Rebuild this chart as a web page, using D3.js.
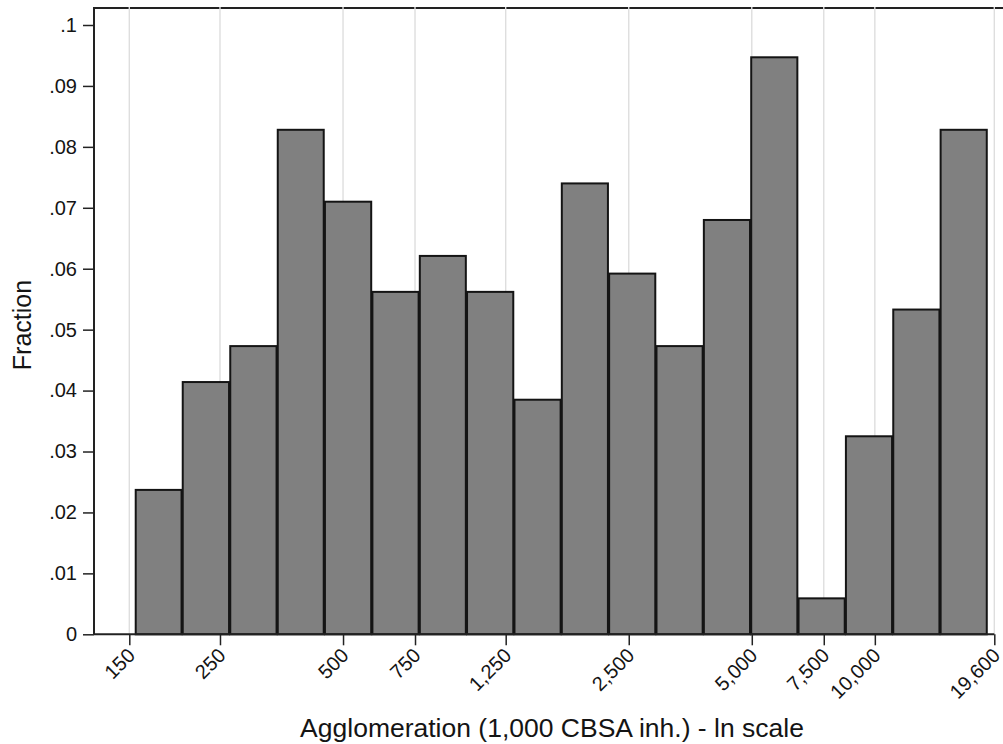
<!DOCTYPE html>
<html>
<head>
<meta charset="utf-8">
<script src="https://cdn.jsdelivr.net/npm/d3@7/dist/d3.min.js"></script>
<style>
  html, body { margin: 0; padding: 0; background: #fff; }
  svg { display: block; font-family: "Liberation Sans", Arial, Helvetica, sans-serif; }
</style>
</head>
<body>
<svg id="chart" width="1003" height="744"></svg>
<script>
// Histogram of agglomeration size (1,000 CBSA inhabitants), 18 log-width bins
const binEdges = [155, 202, 264, 345, 450, 588, 768, 1002, 1309, 1709,
                  2231, 2913, 3804, 4967, 6485, 8468, 11056, 14437, 18850];
const fractions = [0.0237, 0.0414, 0.0473, 0.0828, 0.0710, 0.0562, 0.0621, 0.0562, 0.0385,
                   0.0740, 0.0592, 0.0473, 0.0680, 0.0947, 0.0059, 0.0325, 0.0533, 0.0828];
const xTicks = [150, 250, 500, 750, 1250, 2500, 5000, 7500, 10000, 19600];
const yTicks = [0, 0.01, 0.02, 0.03, 0.04, 0.05, 0.06, 0.07, 0.08, 0.09, 0.1];
const xTitle = "Agglomeration (1,000 CBSA inh.) - ln scale";
const yTitle = "Fraction";

const bins = fractions.map((f, i) => ({ x0: binEdges[i], x1: binEdges[i + 1], value: f }));

const svg = d3.select("#chart");
const plot = { left: 94, right: 1003, top: 8, bottom: 634.3 };

const x = d3.scaleLog().domain([150, 19600]).range([129.3, 994.3]);
const y = d3.scaleLinear().domain([0, 0.1]).range([634.3, 25]);

const ink = "#141414";

// Plot region top border
svg.append("line")
  .attr("x1", plot.left).attr("x2", plot.right)
  .attr("y1", plot.top).attr("y2", plot.top)
  .attr("stroke", "#222").attr("stroke-width", 2);

// Vertical grid lines at the x tick values
svg.append("g").selectAll("line").data(xTicks).join("line")
  .attr("x1", d => x(d)).attr("x2", d => x(d))
  .attr("y1", plot.top - 1).attr("y2", plot.bottom)
  .attr("stroke", "#dedede").attr("stroke-width", 1.4);

// Bars
svg.append("g").selectAll("rect").data(bins).join("rect")
  .attr("x", d => x(d.x0) + 0.6)
  .attr("width", d => x(d.x1) - x(d.x0) - 1.2)
  .attr("y", d => y(d.value))
  .attr("height", d => y(0) - y(d.value))
  .attr("fill", "#808080")
  .attr("stroke", ink).attr("stroke-width", 2);

// Y axis
const yAxis = svg.append("g")
  .attr("transform", `translate(${plot.left},0)`)
  .call(d3.axisLeft(y).tickValues(yTicks).tickSize(11).tickPadding(6)
    .tickFormat(d => d === 0 ? "0" : d3.format(".2~f")(d).replace(/^0/, "")));
yAxis.select(".domain").attr("d", `M0,${plot.top - 1}V${plot.bottom}`)
  .attr("stroke", "#222").attr("stroke-width", 2);
yAxis.selectAll(".tick line").attr("stroke", "#222").attr("stroke-width", 1.5);
yAxis.selectAll(".tick text").attr("font-size", 20).attr("fill", ink)
  .attr("font-family", "'Liberation Sans', Arial, sans-serif");

// X axis
const xAxis = svg.append("g")
  .attr("transform", `translate(0,${plot.bottom})`)
  .call(d3.axisBottom(x).tickValues(xTicks).tickSize(11).tickFormat(d3.format(",")));
xAxis.select(".domain").attr("d", `M${plot.left},0H${x(19600)}`)
  .attr("stroke", "#222").attr("stroke-width", 2);
xAxis.selectAll(".tick line").attr("stroke", "#222").attr("stroke-width", 1.5);
xAxis.selectAll(".tick text")
  .attr("font-size", 20).attr("fill", ink)
  .attr("font-family", "'Liberation Sans', Arial, sans-serif")
  .attr("text-anchor", "end")
  .attr("y", 0).attr("dy", "0.35em")
  .attr("transform", "translate(1.5,17.5) rotate(-45)");

// Axis titles
svg.append("text")
  .attr("x", 552).attr("y", 737)
  .attr("text-anchor", "middle")
  .attr("font-size", 26.5).attr("fill", ink)
  .text(xTitle);

svg.append("text")
  .attr("transform", "translate(31,325) rotate(-90)")
  .attr("text-anchor", "middle")
  .attr("font-size", 25).attr("fill", ink)
  .text(yTitle);
</script>
</body>
</html>
